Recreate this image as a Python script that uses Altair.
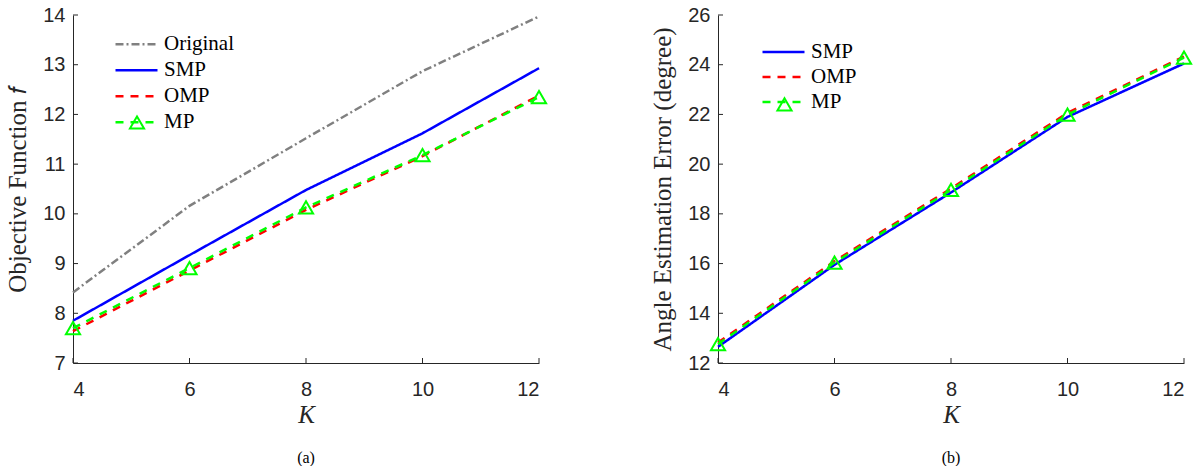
import altair as alt
import pandas as pd

# ---------------- data ----------------
K = [4, 6, 8, 10, 12]

# (a) Objective function f
obj_names = ["Original", "SMP", "OMP", "MP"]
obj_original = [8.42, 10.16, 11.52, 12.87, 13.97]
obj_smp = [7.85, 9.17, 10.48, 11.62, 12.93]
obj_omp = [7.64, 8.86, 10.08, 11.16, 12.38]
obj_mp = [7.70, 8.91, 10.13, 11.18, 12.35]
obj_yticks = [7, 8, 9, 10, 11, 12, 13, 14]

# (b) Angle estimation error (degree)
ang_names = ["SMP", "OMP", "MP"]
ang_smp = [12.65, 15.95, 18.86, 21.90, 24.05]
ang_omp = [12.82, 16.10, 19.02, 22.06, 24.33]
ang_mp = [12.76, 16.04, 18.96, 21.99, 24.29]
ang_yticks = [12, 14, 16, 18, 20, 22, 24, 26]

COLORS = {"Original": "#808080", "SMP": "#0000ff", "OMP": "#ff0000", "MP": "#00ff00"}
DASHES = {"Original": [8, 3, 2, 3], "SMP": [1, 0], "OMP": [8, 7], "MP": [8, 7]}
AX = "#262626"


def long_df(names, series):
    rows = []
    for name, vals in zip(names, series):
        for k, v in zip(K, vals):
            rows.append({"K": k, "value": v, "method": name, "mk": "MP"})
    return pd.DataFrame(rows)


def panel(names, series, ydom, yticks, ytitle, caption, leg, tri, tick_dy, tick_dx):
    df = long_df(names, series)
    xenc = alt.X("K:Q", scale=alt.Scale(domain=[4, 12], nice=False, zero=False),
                 axis=alt.Axis(values=K, title="K", titleFontStyle="italic",
                               labelPadding=16, titlePadding=3, format="d"))
    yenc = alt.Y("value:Q", scale=alt.Scale(domain=ydom, nice=False, zero=False),
                 axis=alt.Axis(values=yticks, title=ytitle, labelPadding=8,
                               titlePadding=12, format="d"))
    legend = alt.Legend(orient="none", legendX=leg[0], legendY=leg[1], title=None,
                        symbolType="stroke", symbolSize=1764, symbolStrokeWidth=2.5,
                        clipHeight=leg[2], labelFont="Liberation Serif", labelFontSize=21,
                        labelColor="black", labelOffset=5, rowPadding=0, padding=0)
    color = alt.Color("method:N", scale=alt.Scale(domain=names, range=[COLORS[n] for n in names]),
                      legend=legend)
    dash = alt.StrokeDash("method:N", scale=alt.Scale(domain=names, range=[DASHES[n] for n in names]),
                          legend=legend)
    layers = []
    for name in names:
        layers.append(
            alt.Chart(df).transform_filter(alt.datum.method == name)
            .mark_line(strokeWidth=2.5)
            .encode(x=xenc, y=yenc, color=color, strokeDash=dash)
        )
    pts = (
        alt.Chart(df).transform_filter(alt.datum.method == "MP")
        .mark_point(filled=False, color="#00ff00", strokeWidth=2, size=200, opacity=1)
        .encode(x=xenc, y=yenc,
                shape=alt.Shape("mk:N", scale=alt.Scale(domain=["MP"], range=["triangle-up"]),
                                legend=alt.Legend(orient="none", legendX=tri[0], legendY=tri[1],
                                                  title=None, labelExpr="''",
                                                  symbolStrokeColor="#00ff00",
                                                  symbolFillColor="transparent",
                                                  symbolStrokeWidth=2, symbolSize=200,
                                                  padding=0)))
    )
    xt = (
        alt.Chart(pd.DataFrame({"K": K})).mark_rule(color=AX, strokeWidth=1)
        .encode(x="K:Q", y=alt.datum(ydom[0]), y2=alt.datum(ydom[0] + tick_dy))
    )
    yt = (
        alt.Chart(pd.DataFrame({"value": yticks})).mark_rule(color=AX, strokeWidth=1)
        .encode(y="value:Q", x=alt.datum(4), x2=alt.datum(4 + tick_dx))
    )
    return alt.layer(*layers, pts, xt, yt).properties(
        width=466, height=348,
        title=alt.TitleParams(caption, orient="bottom", frame="group", anchor="middle",
                              font="Liberation Serif", fontSize=16, fontWeight="normal",
                              color="black", offset=23),
    )


left = panel(obj_names, [obj_original, obj_smp, obj_omp, obj_mp], [7, 14], obj_yticks,
             "Objective Function 𝑓", "(a)", (41, 16.5, 25.5), (55.5, 99), 0.1, 0.086)
right = panel(ang_names, [ang_smp, ang_omp, ang_mp], [12, 26], ang_yticks,
              "Angle Estimation Error (degree)", "(b)", (43, 24.5, 25), (58, 80.8), 0.2, 0.086)

chart = (
    alt.hconcat(left, right, spacing=99)
    .resolve_scale(color="independent", strokeDash="independent", shape="independent",
                   x="independent", y="independent")
    .resolve_legend(color="independent", strokeDash="independent", shape="independent")
    .properties(padding={"left": 5, "top": 5, "right": 0, "bottom": 0})
    .configure_view(stroke=None)
    .configure_axis(labelFont="Liberation Sans", labelFontSize=20, labelColor=AX,
                    domainColor=AX, domainWidth=1, ticks=False, tickSize=0, grid=False,
                    titleFont="Liberation Serif", titleFontSize=25, titleColor=AX,
                    titleFontWeight="normal")
)

chart.save("out.html", embed_options={"renderer": "svg", "actions": False})
